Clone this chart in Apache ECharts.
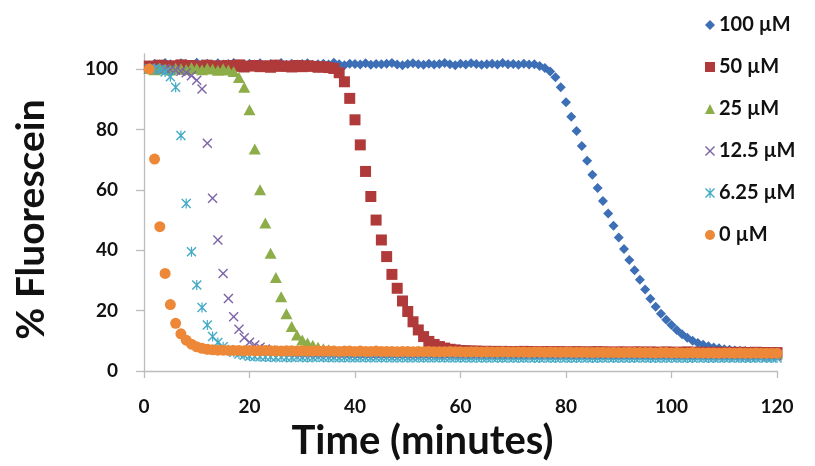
<!DOCTYPE html>
<html>
<head>
<meta charset="utf-8">
<script src="https://cdn.jsdelivr.net/npm/echarts@6/dist/echarts.min.js"></script>
<style>html,body{margin:0;padding:0;background:#fff}#c{width:815px;height:466px}</style>
</head>
<body>
<div id="c"></div>
<script>
// Time points (minutes)
const time = [1,2,3,4,5,6,7,8,9,10,11,12,13,14,15,16,17,18,19,20,21,22,23,24,25,26,27,28,29,30,
31,32,33,34,35,36,37,38,39,40,41,42,43,44,45,46,47,48,49,50,51,52,53,54,55,56,57,58,59,60,
61,62,63,64,65,66,67,68,69,70,71,72,73,74,75,76,77,78,79,80,81,82,83,84,85,86,87,88,89,90,
91,92,93,94,95,96,97,98,99,100,101,102,103,104,105,106,107,108,109,110,111,112,113,114,115,116,117,118,119,120];

const seriesNames = ['100 µM','50 µM','25 µM','12.5 µM','6.25 µM','0 µM'];

const v100 = [101.2,101.8,101.5,102.0,101.6,101.3,101.9,101.7,101.4,102.1,
101.6,101.8,101.3,101.9,101.5,101.7,102.0,101.4,101.6,101.8,
101.5,101.9,101.3,101.7,101.6,102.0,101.4,101.8,101.5,101.7,
101.9,101.4,101.6,101.8,101.5,102.1,101.6,101.3,101.8,101.7,
101.5,101.9,101.4,101.7,101.6,101.8,102.0,101.5,101.3,101.7,
101.9,101.6,101.4,101.8,101.5,101.7,102.0,101.6,101.3,101.8,
101.5,101.9,101.7,101.4,101.6,101.8,101.5,102.0,101.6,101.7,
101.4,101.8,101.5,101.6,101.0,100.4,99.2,97.3,94.0,89.0,
84.2,79.5,74.5,69.6,65.0,60.6,56.3,52.2,48.1,44.2,
40.4,36.8,33.4,30.2,27.0,23.9,21.3,19.0,17.0,15.2,
13.6,12.2,11.0,10.0,9.3,8.7,8.2,7.8,7.5,7.2,
7.0,6.8,6.7,6.6,6.5,6.5,6.5,6.4,6.4,6.4];

const v50 = [101.0,100.6,101.3,100.8,101.1,100.7,101.4,100.9,101.2,100.6,
101.0,101.3,100.8,101.1,100.5,101.2,100.9,101.4,100.7,101.0,
101.2,100.8,101.1,100.6,101.3,100.9,101.0,100.7,101.2,100.8,
101.1,100.9,100.6,100.8,100.5,100.2,98.8,95.8,90.3,83.2,
74.9,66.1,57.8,50.0,43.4,37.9,32.0,27.4,23.2,19.7,
16.3,13.6,11.4,9.8,8.8,8.1,7.6,7.2,7.0,6.8,
6.7,6.6,6.6,6.5,6.5,6.5,6.4,6.5,6.4,6.4,
6.4,6.5,6.4,6.4,6.3,6.4,6.4,6.3,6.4,6.3,
6.3,6.4,6.3,6.3,6.3,6.4,6.3,6.3,6.2,6.3,
6.3,6.2,6.3,6.3,6.2,6.3,6.2,6.2,6.3,6.2,
6.2,6.2,6.3,6.2,6.2,6.2,6.1,6.2,6.2,6.1,
6.2,6.1,6.2,6.1,6.1,6.2,6.1,6.1,6.1,6.1];

const v25 = [100.2,99.8,100.4,100.0,99.7,100.3,100.1,99.9,100.5,100.2,
99.8,100.3,100.0,99.6,100.1,99.7,99.2,97.2,94.0,86.5,
73.5,60.0,49.0,39.0,31.0,24.6,19.0,14.7,11.9,10.3,
9.3,8.5,7.9,7.4,7.0,6.7,6.5,6.4,6.3,6.3,
6.2,6.3,6.2,6.2,6.1,6.2,6.2,6.1,6.2,6.1,
6.1,6.1,6.2,6.1,6.1,6.0,6.1,6.1,6.0,6.1,
6.0,6.0,6.1,6.0,6.0,6.0,6.0,5.9,6.0,6.0,
5.9,6.0,5.9,6.0,5.9,5.9,6.0,5.9,5.9,5.9,
5.9,5.8,5.9,5.9,5.8,5.9,5.8,5.9,5.8,5.8,
5.8,5.9,5.8,5.8,5.8,5.7,5.8,5.8,5.7,5.8,
5.7,5.8,5.7,5.7,5.8,5.7,5.7,5.7,5.7,5.6,
5.7,5.7,5.6,5.7,5.6,5.7,5.6,5.6,5.6,5.6];

const v12_5 = [100.3,100.0,99.8,100.2,99.9,99.6,99.3,98.8,97.8,96.3,
93.4,75.4,57.2,43.4,32.3,24.0,18.0,13.8,11.0,9.5,
8.6,7.9,7.3,6.9,6.6,6.4,6.2,6.1,6.0,6.0,
5.9,5.9,5.8,5.9,5.8,5.8,5.8,5.7,5.8,5.7,
5.7,5.7,5.6,5.7,5.6,5.6,5.7,5.6,5.6,5.6,
5.5,5.6,5.5,5.6,5.5,5.5,5.5,5.6,5.5,5.5,
5.4,5.5,5.5,5.4,5.5,5.4,5.4,5.5,5.4,5.4,
5.4,5.4,5.3,5.4,5.4,5.3,5.4,5.3,5.3,5.4,
5.3,5.3,5.3,5.3,5.2,5.3,5.3,5.2,5.3,5.2,
5.2,5.3,5.2,5.2,5.2,5.2,5.1,5.2,5.2,5.1,
5.2,5.1,5.1,5.2,5.1,5.1,5.1,5.1,5.0,5.1,
5.1,5.0,5.1,5.0,5.0,5.1,5.0,5.0,5.0,5.0];

const v6_25 = [100.0,100.2,99.8,99.0,97.5,94.0,78.0,55.5,39.5,28.5,
21.0,15.2,11.4,9.4,8.0,7.0,6.2,5.6,5.2,4.9,
4.8,4.7,4.6,4.6,4.5,4.6,4.5,4.5,4.6,4.5,
4.5,4.5,4.6,4.5,4.5,4.5,4.4,4.5,4.5,4.4,
4.5,4.5,4.4,4.5,4.4,4.5,4.4,4.4,4.5,4.4,
4.4,4.5,4.4,4.4,4.4,4.5,4.4,4.4,4.4,4.4,
4.4,4.3,4.4,4.4,4.3,4.4,4.4,4.3,4.4,4.3,
4.4,4.3,4.4,4.3,4.3,4.4,4.3,4.3,4.4,4.3,
4.3,4.3,4.4,4.3,4.3,4.3,4.3,4.4,4.3,4.3,
4.3,4.3,4.3,4.4,4.3,4.3,4.3,4.3,4.3,4.4,
4.3,4.3,4.3,4.3,4.4,4.3,4.3,4.3,4.3,4.3,
4.4,4.3,4.3,4.3,4.3,4.3,4.4,4.3,4.3,4.3];

const v0 = [100.0,70.2,47.8,32.3,22.0,15.8,12.3,10.2,8.9,8.0,
7.5,7.2,7.0,6.9,6.9,6.8,6.8,6.8,6.7,6.8,
6.7,6.7,6.8,6.7,6.7,6.6,6.7,6.7,6.6,6.7,
6.6,6.6,6.7,6.6,6.6,6.6,6.5,6.6,6.6,6.5,
6.6,6.5,6.5,6.6,6.5,6.5,6.5,6.4,6.5,6.5,
6.4,6.5,6.4,6.5,6.4,6.4,6.4,6.5,6.4,6.4,
6.3,6.4,6.4,6.3,6.4,6.3,6.3,6.4,6.3,6.3,
6.3,6.3,6.2,6.3,6.3,6.2,6.3,6.2,6.2,6.3,
6.2,6.2,6.2,6.2,6.1,6.2,6.2,6.1,6.2,6.1,
6.1,6.2,6.1,6.1,6.1,6.1,6.0,6.1,6.1,6.0,
6.1,6.0,6.0,6.1,6.0,6.0,6.0,6.0,5.9,6.0,
6.0,5.9,6.0,5.9,5.9,6.0,5.9,5.9,5.9,5.9];

const yTicks = [0,20,40,60,80,100];
const xTicks = [0,20,40,60,80,100,120];

const colors = ['#3d6fb6','#b03a3a','#8cad48','#7d64a6','#45abc6','#ec8838'];
const xPath = 'path://M0,1 L1,0 L5,4 L9,0 L10,1 L6,5 L10,9 L9,10 L5,6 L1,10 L0,9 L4,5 Z';
const starPath = 'path://M0,1 L1,0 L5,4 L9,0 L10,1 L6,5 L10,9 L9,10 L5,6 L1,10 L0,9 L4,5 Z M4.4,0 L5.6,0 L5.6,10 L4.4,10 Z';
const symbols = ['diamond','rect','triangle',xPath,starPath,'circle'];
const sizes = [[10,10],[11,11],[12,11],[10,10],[10,10],[11,11]];
const allValues = [v100, v50, v25, v12_5, v6_25, v0];

const series = seriesNames.map((name, i) => ({
  name: name,
  type: 'scatter',
  symbol: symbols[i],
  symbolSize: sizes[i],
  itemStyle: { color: colors[i], opacity: 1 },
  data: time.map((t, k) => [t, allValues[i][k]]),
  z: 2 + i,
  silent: true,
  animation: false
}));

const font = 'Lato, "Open Sans", sans-serif';
const chart = echarts.init(document.getElementById('c'), null, { renderer: 'canvas' });
chart.setOption({
  animation: false,
  backgroundColor: '#ffffff',
  grid: { left: 144, right: 38, top: 54, bottom: 95, containLabel: false },
  legend: {
    orient: 'vertical',
    left: 700,
    top: 10,
    itemWidth: 10,
    itemHeight: 10,
    itemGap: 22,
    data: seriesNames,
    textStyle: { fontFamily: font, fontWeight: 'bold', fontSize: 20, color: '#111', padding: [0,0,0,-1] }
  },
  xAxis: {
    type: 'value',
    min: 0, max: 120, interval: 20,
    name: 'Time (minutes)',
    nameLocation: 'middle',
    nameGap: 49,
    nameTextStyle: { fontFamily: font, fontWeight: 'bold', fontSize: 40, color: '#111', padding: [0, 76, 0, 0] },
    axisLine: { show: true, lineStyle: { color: '#bcbcbc', width: 1.3 } },
    axisTick: { show: true, length: 7, lineStyle: { color: '#bcbcbc', width: 1.3 } },
    axisLabel: { fontFamily: font, fontWeight: 'bold', fontSize: 19, color: '#111', margin: 26,
      customValues: xTicks },
    splitLine: { show: false }
  },
  yAxis: {
    type: 'value',
    min: 0, max: 105, interval: 20,
    name: '% Fluorescein',
    nameLocation: 'middle',
    nameRotate: 90,
    nameGap: 93,
    nameTextStyle: { fontFamily: font, fontWeight: 'bold', fontSize: 39, color: '#111', padding: [0, 14, 0, 0] },
    axisLine: { show: true, lineStyle: { color: '#bcbcbc', width: 1.3 } },
    axisTick: { show: true, length: 8, lineStyle: { color: '#bcbcbc', width: 1.3 }, customValues: yTicks },
    axisLabel: { fontFamily: font, fontWeight: 'bold', fontSize: 19, color: '#111', margin: 26,
      customValues: yTicks },
    splitLine: { show: false }
  },
  series: series
});
</script>
</body>
</html>
